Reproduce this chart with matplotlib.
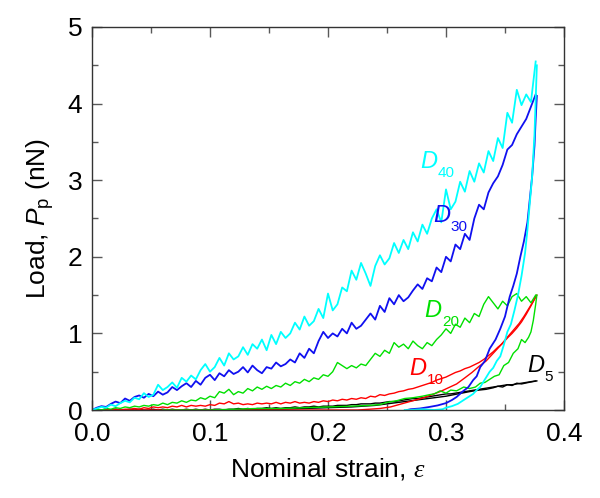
import numpy as np
import matplotlib
matplotlib.use("Agg")
import matplotlib.pyplot as plt
from matplotlib.ticker import MultipleLocator

plt.rcParams['font.family'] = ['Liberation Sans', 'DejaVu Sans']
plt.rcParams['mathtext.fontset'] = 'custom'
plt.rcParams['mathtext.rm'] = 'Liberation Sans'
plt.rcParams['mathtext.it'] = 'Liberation Sans:italic'
plt.rcParams['mathtext.sf'] = 'Liberation Serif:italic'

# ---------------- data ----------------
strain_load = np.round(np.arange(95) * 0.004, 3)   # 0 ... 0.376

d40_load = [0.00, 0.02, 0.04, 0.03, 0.07, 0.05, 0.09, 0.12, 0.10, 0.16,
            0.14, 0.22, 0.17, 0.20, 0.33, 0.26, 0.30, 0.36, 0.29, 0.42,
            0.37, 0.45, 0.40, 0.52, 0.60, 0.50, 0.56, 0.68, 0.58, 0.74,
            0.66, 0.70, 0.82, 0.72, 0.86, 0.80, 0.92, 0.78, 0.98, 0.86,
            1.02, 0.94, 1.00, 1.14, 1.05, 1.22, 1.10, 1.16, 1.32, 1.20,
            1.52, 1.30, 1.38, 1.60, 1.55, 1.82, 1.70, 1.92, 1.78, 1.62,
            1.88, 2.02, 1.90, 1.98, 2.18, 2.05, 2.22, 2.10, 2.32, 2.20,
            2.42, 2.30, 2.50, 2.62, 2.45, 2.88, 2.62, 2.72, 2.98, 2.85,
            3.12, 2.98, 3.22, 3.10, 3.38, 3.25, 3.55, 3.42, 3.88, 3.75,
            4.18, 3.98, 4.12, 4.02, 4.55]

d30_load = [0.00, 0.03, 0.05, 0.04, 0.08, 0.11, 0.09, 0.15, 0.12, 0.17,
            0.19, 0.16, 0.21, 0.18, 0.24, 0.20, 0.23, 0.30, 0.26, 0.31,
            0.35, 0.30, 0.38, 0.33, 0.42, 0.46, 0.39, 0.48, 0.44, 0.52,
            0.47, 0.50, 0.56, 0.49, 0.58, 0.52, 0.48, 0.56, 0.54, 0.62,
            0.57, 0.60, 0.66, 0.62, 0.74, 0.68, 0.80, 0.74, 0.90, 1.02,
            0.94, 1.00, 0.96, 1.06, 1.00, 1.14, 1.06, 1.10, 1.18, 1.26,
            1.18, 1.36, 1.28, 1.46, 1.38, 1.50, 1.42, 1.47, 1.56, 1.64,
            1.58, 1.72, 1.68, 1.86, 1.80, 2.00, 1.94, 2.16, 2.10, 2.30,
            2.22, 2.50, 2.68, 2.62, 2.84, 2.96, 3.05, 3.20, 3.40, 3.46,
            3.60, 3.70, 3.80, 3.96, 4.12]

d20_load = [0.00, 0.01, 0.00, 0.02, 0.01, 0.03, 0.02, 0.04, 0.03, 0.05,
            0.04, 0.06, 0.05, 0.07, 0.06, 0.09, 0.07, 0.10, 0.09, 0.12,
            0.10, 0.13, 0.12, 0.16, 0.14, 0.18, 0.16, 0.24, 0.22, 0.27,
            0.20, 0.24, 0.22, 0.28, 0.25, 0.30, 0.27, 0.31, 0.28, 0.32,
            0.30, 0.35, 0.32, 0.37, 0.35, 0.40, 0.37, 0.42, 0.40, 0.46,
            0.44, 0.50, 0.62, 0.58, 0.54, 0.58, 0.55, 0.60, 0.58, 0.66,
            0.74, 0.70, 0.78, 0.74, 0.88, 0.82, 0.86, 0.80, 0.90, 0.84,
            0.80, 0.88, 0.84, 0.92, 0.98, 1.06, 1.00, 1.12, 1.08, 1.20,
            1.14, 1.26, 1.22, 1.38, 1.48, 1.40, 1.32, 1.42, 1.36, 1.48,
            1.52, 1.42, 1.48, 1.40, 1.50]

d10_load = [0.00, 0.00, 0.00, 0.01, 0.00, 0.01, 0.00, 0.01, 0.01, 0.02,
            0.01, 0.03, 0.02, 0.04, 0.03, 0.04, 0.03, 0.05, 0.04, 0.06,
            0.04, 0.06, 0.05, 0.06, 0.05, 0.07, 0.06, 0.09, 0.08, 0.11,
            0.08, 0.09, 0.07, 0.08, 0.07, 0.09, 0.08, 0.09, 0.08, 0.10,
            0.08, 0.10, 0.09, 0.11, 0.09, 0.10, 0.09, 0.11, 0.10, 0.12,
            0.11, 0.13, 0.12, 0.14, 0.13, 0.15, 0.14, 0.16, 0.15, 0.18,
            0.17, 0.20, 0.19, 0.21, 0.22, 0.24, 0.25, 0.27, 0.28, 0.30,
            0.32, 0.34, 0.36, 0.39, 0.41, 0.43, 0.46, 0.49, 0.51, 0.54,
            0.56, 0.59, 0.62, 0.66, 0.71, 0.76, 0.82, 0.87, 0.94, 1.00,
            1.07, 1.15, 1.25, 1.36, 1.48]

d5_load = [0.00, 0.01, 0.00, 0.01, 0.00, 0.01, 0.00, 0.00, 0.01, 0.00,
           0.01, 0.00, 0.00, 0.01, 0.00, 0.01, 0.00, 0.01, 0.00, 0.00,
           0.01, 0.00, 0.01, 0.00, 0.01, 0.00, 0.01, 0.01, 0.00, 0.01,
           0.01, 0.02, 0.01, 0.02, 0.01, 0.02, 0.02, 0.03, 0.02, 0.03,
           0.02, 0.03, 0.03, 0.04, 0.03, 0.04, 0.04, 0.05, 0.04, 0.05,
           0.05, 0.05, 0.06, 0.06, 0.06, 0.07, 0.07, 0.08, 0.08, 0.08,
           0.09, 0.09, 0.10, 0.11, 0.11, 0.12, 0.13, 0.14, 0.15, 0.15,
           0.16, 0.17, 0.18, 0.19, 0.20, 0.21, 0.21, 0.22, 0.23, 0.24,
           0.25, 0.26, 0.27, 0.28, 0.29, 0.30, 0.31, 0.32, 0.33, 0.33,
           0.34, 0.35, 0.36, 0.37, 0.38]

# unloading branches (strain, load)
d40_un_strain = [0.377, 0.376, 0.375, 0.373, 0.371, 0.369, 0.367, 0.364, 0.361, 0.358,
                 0.355, 0.352, 0.349, 0.346, 0.343, 0.340, 0.337, 0.333, 0.329, 0.326,
                 0.323, 0.319, 0.314, 0.310, 0.305, 0.300, 0.297, 0.290, 0.280, 0.270, 0.265]
d40_un_load = [4.50, 4.05, 3.60, 3.05, 2.70, 2.35, 2.05, 1.75, 1.50, 1.30,
               1.12, 1.02, 0.85, 0.70, 0.64, 0.55, 0.50, 0.40, 0.30, 0.26,
               0.21, 0.17, 0.12, 0.08, 0.05, 0.03, 0.01, 0.00, 0.01, 0.00, 0.00]

d30_un_strain = [0.377, 0.376, 0.375, 0.373, 0.371, 0.369, 0.366, 0.363, 0.360, 0.357,
                 0.354, 0.350, 0.346, 0.342, 0.337, 0.333, 0.329, 0.326, 0.323, 0.319,
                 0.314, 0.309, 0.305, 0.300, 0.293, 0.286, 0.278, 0.270, 0.267]
d30_un_load = [4.10, 3.80, 3.45, 3.05, 2.75, 2.45, 2.20, 2.00, 1.78, 1.62,
               1.48, 1.22, 1.06, 0.92, 0.80, 0.64, 0.56, 0.44, 0.39, 0.30,
               0.24, 0.17, 0.13, 0.09, 0.06, 0.04, 0.02, 0.01, 0.00]

d20_un_strain = [0.377, 0.376, 0.374, 0.372, 0.370, 0.367, 0.364, 0.361, 0.357, 0.353,
                 0.349, 0.345, 0.341, 0.337, 0.333, 0.329, 0.325, 0.320, 0.315, 0.309,
                 0.304, 0.300, 0.295, 0.290, 0.286, 0.280, 0.272, 0.265, 0.258, 0.250,
                 0.244, 0.235, 0.220, 0.200, 0.180, 0.160, 0.140, 0.120, 0.100, 0.080, 0.060]
d20_un_load = [1.50, 1.38, 1.17, 1.02, 0.95, 0.88, 0.92, 0.80, 0.74, 0.62,
               0.58, 0.46, 0.44, 0.40, 0.36, 0.35, 0.30, 0.28, 0.30, 0.25,
               0.26, 0.22, 0.25, 0.21, 0.20, 0.18, 0.16, 0.15, 0.12, 0.10,
               0.07, 0.06, 0.05, 0.04, 0.03, 0.02, 0.02, 0.01, 0.00, 0.00, 0.00]

d10_un_strain = [0.377, 0.374, 0.370, 0.366, 0.362, 0.357, 0.352, 0.346, 0.340, 0.334,
                 0.328, 0.322, 0.316, 0.309, 0.302, 0.295, 0.288, 0.281, 0.274, 0.267,
                 0.260, 0.253, 0.244, 0.235, 0.225, 0.200, 0.160, 0.120, 0.080, 0.040, 0.020]
d10_un_load = [1.50, 1.42, 1.32, 1.22, 1.13, 1.04, 0.95, 0.84, 0.74, 0.64,
               0.57, 0.49, 0.42, 0.34, 0.29, 0.24, 0.20, 0.16, 0.13, 0.10,
               0.07, 0.04, 0.02, 0.01, 0.00, 0.00, 0.00, 0.00, 0.00, 0.00, 0.00]

d5_un_strain = [0.377, 0.370, 0.364, 0.360, 0.356, 0.352, 0.348, 0.344, 0.340, 0.334,
                0.328, 0.320, 0.310, 0.300, 0.290, 0.280, 0.270, 0.260, 0.250, 0.240,
                0.220, 0.200, 0.180, 0.160, 0.140, 0.120, 0.100, 0.080]
d5_un_load = [0.38, 0.36, 0.34, 0.35, 0.32, 0.33, 0.30, 0.31, 0.29, 0.27,
              0.26, 0.24, 0.21, 0.18, 0.16, 0.14, 0.12, 0.10, 0.08, 0.06,
              0.04, 0.03, 0.02, 0.01, 0.01, 0.00, 0.00, 0.00]

series_names = ['5', '10', '20', '30', '40']
series_colors = ['#000000', '#FF0000', '#00E000', '#1010F0', '#00FFFF']
xticks = [0.0, 0.1, 0.2, 0.3, 0.4]
yticks = [0, 1, 2, 3, 4, 5]

# ---------------- figure ----------------
fig = plt.figure(figsize=(6.0, 4.98), dpi=100)
ax = fig.add_axes([92 / 600, 88 / 498, 472 / 600, 383 / 498])

loads = [d5_load, d10_load, d20_load, d30_load, d40_load]
uns = [(d5_un_strain, d5_un_load), (d10_un_strain, d10_un_load),
       (d20_un_strain, d20_un_load), (d30_un_strain, d30_un_load),
       (d40_un_strain, d40_un_load)]
widths = [1.0, 1.0, 1.0, 1.3, 1.3]
for ld, (us, ul), c, lw in zip(loads, uns, series_colors, widths):
    ax.plot(strain_load, ld, color=c, lw=lw)
    ax.plot(us, ul, color=c, lw=lw)

label_pos = {'40': (0.278, 3.16), '30': (0.289, 2.45), '20': (0.282, 1.21),
             '10': (0.269, 0.46), '5': (0.369, 0.50)}
for name, c in zip(series_names, series_colors):
    x, y = label_pos[name]
    ax.text(x, y, 'D', color=c, fontsize=17, fontstyle='italic',
            ha='left', va='baseline')
    ax.annotate(name, xy=(x, y), xytext=(12.5, -6.5), textcoords='offset points',
                color=c, fontsize=11, ha='left', va='baseline')

ax.set_xlim(0, 0.4)
ax.set_ylim(0, 5)
ax.set_xticks(xticks)
ax.set_xticklabels(['%.1f' % v for v in xticks])
ax.set_yticks(yticks)
ax.xaxis.set_minor_locator(MultipleLocator(0.05))
ax.yaxis.set_minor_locator(MultipleLocator(0.5))
ax.tick_params(which='both', direction='in', top=True, right=True,
               color='0.35', width=1.0, labelsize=19, labelcolor='black')
ax.tick_params(which='major', length=7, pad=7)
ax.tick_params(axis='x', which='major', pad=8.5)
ax.tick_params(which='minor', length=4)
for sp in ax.spines.values():
    sp.set_linewidth(1.0)
    sp.set_color('0.2')

ax.set_xlabel(r'Nominal strain, $\mathsf{\varepsilon}$', fontsize=19, labelpad=7)
ax.set_ylabel(r'Load, $P_{\mathrm{p}}$ (nN)', fontsize=19, labelpad=8)

fig.savefig('out.png', dpi=100)
